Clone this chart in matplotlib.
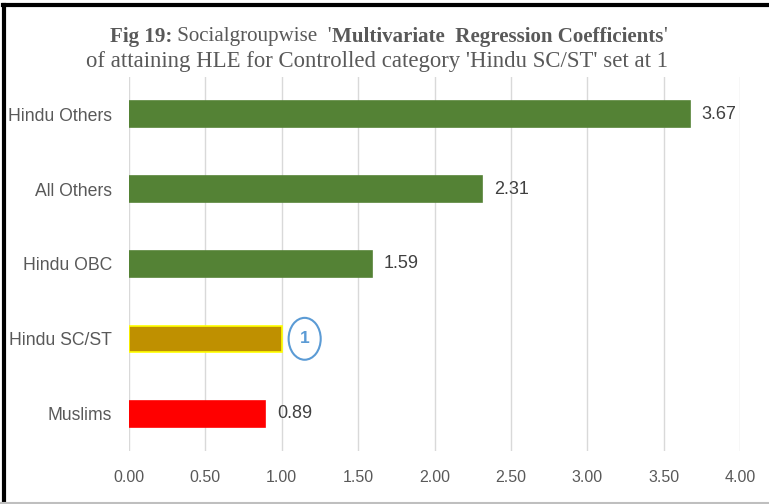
import numpy as np
import matplotlib
matplotlib.use('Agg')
from matplotlib import pyplot as plt
from matplotlib.patches import Ellipse
from matplotlib.lines import Line2D

# data (top to bottom)
groups = ['Hindu Others', 'All Others', 'Hindu OBC', 'Hindu SC/ST', 'Muslims']
coefs = [3.67, 2.31, 1.59, 1.00, 0.89]
value_labels = ['3.67', '2.31', '1.59', '1', '0.89']
colors = ['#548235', '#548235', '#548235', '#BF9000', '#FF0000']
edges = ['#548235', '#548235', '#548235', '#FFFF00', '#FF0000']
xticks = [0.0, 0.5, 1.0, 1.5, 2.0, 2.5, 3.0, 3.5, 4.0]

fig = plt.figure(figsize=(7.69, 5.04), dpi=100)
ax = fig.add_axes([129/769, 1 - 451/504, (740 - 129)/769, (451 - 77)/504])

y = np.arange(len(groups))
ax.barh(y, coefs, height=0.35, color=colors, edgecolor=edges, linewidth=1.2, zorder=3)
ax.set_ylim(len(groups) - 0.5, -0.5)
ax.set_xlim(0, 4)
ax.set_xticks(xticks)
ax.set_xticklabels(['%.2f' % t for t in xticks], fontsize=11.5, color='#595959', family='Liberation Sans')
ax.set_yticks(y)
ax.set_yticklabels(groups, fontsize=12.7, color='#595959', family='Liberation Sans')
ax.tick_params(length=0, pad=14)
ax.tick_params(axis='y', pad=12)
ax.grid(axis='x', color='#D9D9D9', linewidth=1, zorder=0)
for s in ax.spines.values():
    s.set_visible(False)

for yi, v, lab in zip(y, coefs, value_labels):
    if lab == '1':
        ax.add_patch(Ellipse((v + 0.15, yi), 0.21, 0.56, fill=False, edgecolor='#5B9BD5', linewidth=1.5, zorder=4))
        ax.text(v + 0.15, yi, lab, ha='center', va='center', fontsize=12.5, fontweight='bold',
                color='#5B9BD5', family='Liberation Sans')
    else:
        ax.text(v + 0.08, yi, lab, ha='left', va='center', fontsize=13, color='#404040', family='Liberation Sans')

# title, first line has mixed weights so it is laid out piece by piece
renderer = fig.canvas.get_renderer()
parts = [("Fig 19:", 'bold'), (" Socialgroupwise  '", 'normal'),
         ("Multivariate  Regression Coefficients", 'bold'), ("'", 'normal')]
widths = []
texts = []
for s, w in parts:
    tt = fig.text(0, 1 - 37/504, s, ha='left', va='center', fontsize=15.1, fontweight=w,
                  color='#595959', family='Liberation Serif')
    texts.append(tt)
    widths.append(tt.get_window_extent(renderer).width / fig.bbox.width)
x0 = 0.505 - sum(widths) / 2
for tt, wd in zip(texts, widths):
    tt.set_x(x0)
    x0 += wd
fig.text(0.49, 1 - 62/504, "of attaining HLE for Controlled category 'Hindu SC/ST' set at 1",
         ha='center', va='center', fontsize=16.4, color='#595959', family='Liberation Serif')

# outer frame
fig.add_artist(Line2D([4/769, 4/769], [0, 1 - 5/504], color='black', linewidth=3, transform=fig.transFigure))
fig.add_artist(Line2D([3/769, 1], [1 - 5/504, 1 - 5/504], color='black', linewidth=3, transform=fig.transFigure))
fig.add_artist(Line2D([0, 1], [1.5/504, 1.5/504], color='#BFBFBF', linewidth=1.5, transform=fig.transFigure))

plt.savefig('out.png', dpi=100)
